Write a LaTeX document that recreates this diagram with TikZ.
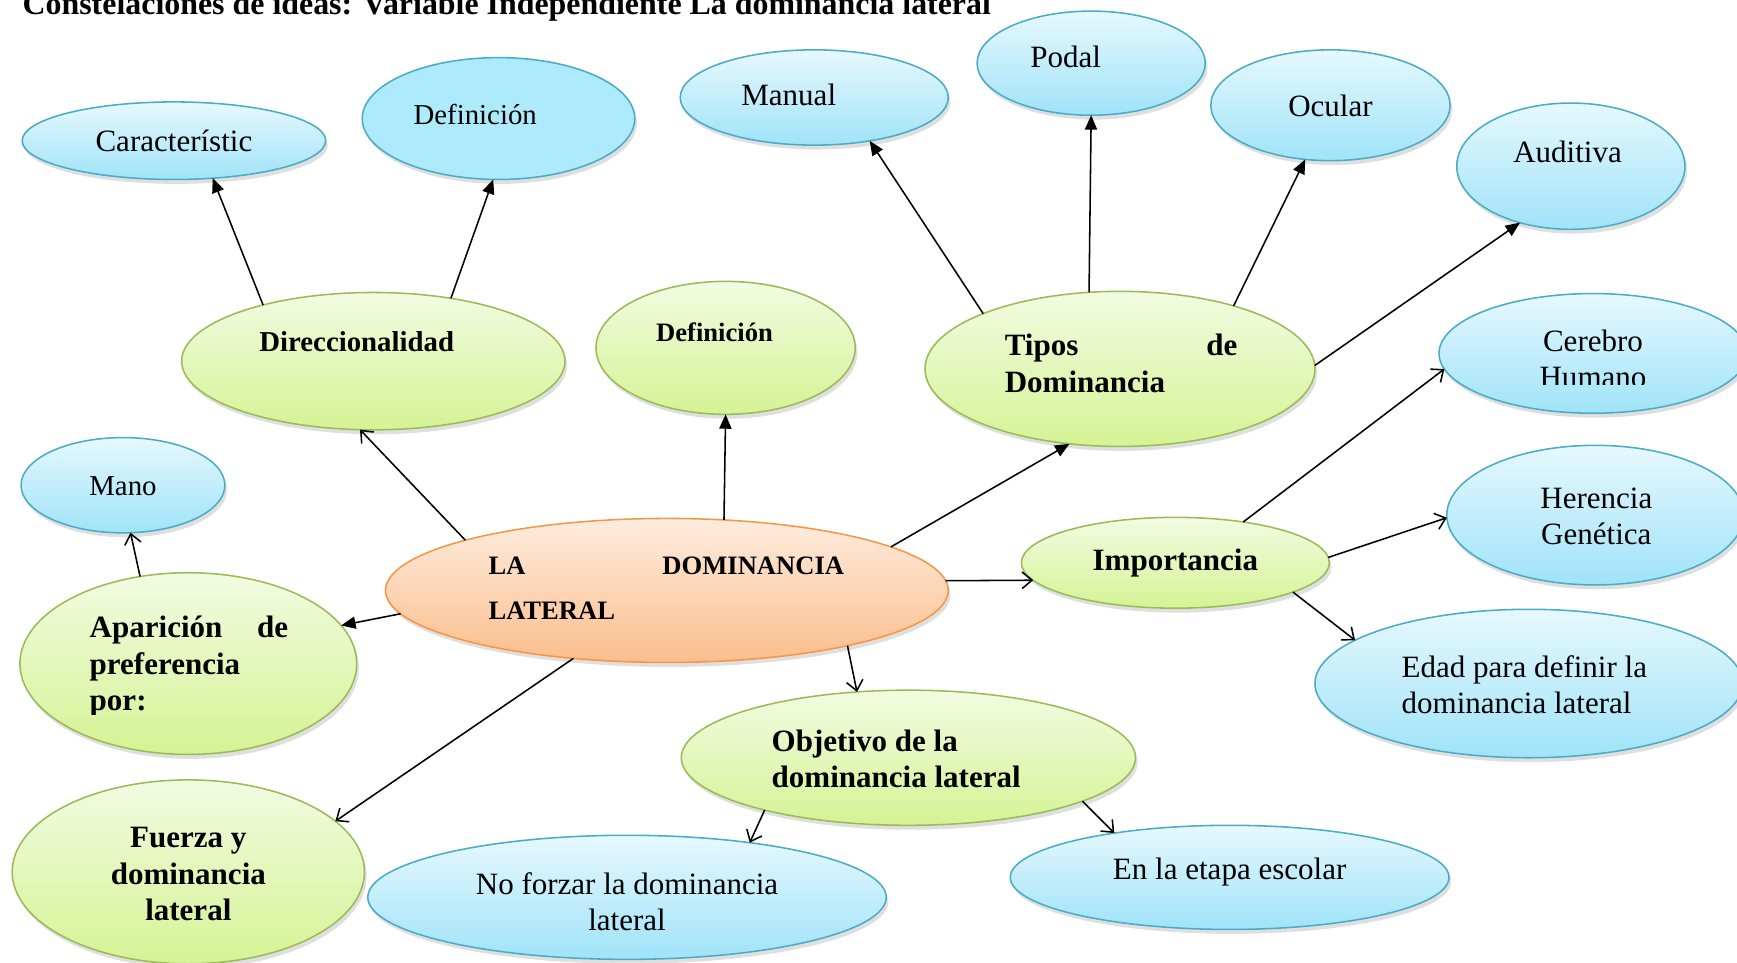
\documentclass[tikz,border=0pt]{standalone}
\usepackage{fontspec}
\setmainfont{Liberation Serif}
\usetikzlibrary{shapes.geometric, arrows.meta, shadows}

\definecolor{bubblue}{RGB}{75,172,198}
\definecolor{bubbluetop}{RGB}{230,248,254}
\definecolor{bubbluebot}{RGB}{160,227,248}
\definecolor{bubcyan}{RGB}{172,234,252}
\definecolor{bubgreen}{RGB}{155,187,89}
\definecolor{bubgreentop}{RGB}{242,251,226}
\definecolor{bubgreenbot}{RGB}{213,243,148}
\definecolor{bubor}{RGB}{247,150,70}
\definecolor{bubortop}{RGB}{253,236,222}
\definecolor{buborbot}{RGB}{251,190,140}

\begin{document}
\begin{tikzpicture}[x=0.5pt, y=-0.5pt,
  bub/.style={ellipse, inner sep=0pt, outer sep=0pt, line width=0.7pt,
    drop shadow={shadow xshift=1pt, shadow yshift=-2pt, opacity=0.25}},
  bluebub/.style={bub, draw=bubblue, top color=bubbluetop, bottom color=bubbluebot},
  greenbub/.style={bub, draw=bubgreen, top color=bubgreentop, bottom color=bubgreenbot},
  mainbub/.style={bub, draw=bubor, top color=bubortop, bottom color=buborbot},
  btxt/.style={font=\fontsize{14}{16.5}\selectfont, align=center, inner sep=0pt},
  gtxt/.style={btxt, font=\fontsize{14}{16.5}\selectfont\bfseries},
  arr/.style={line width=0.7pt, -{Triangle[length=6.5pt, width=5.5pt]}},
  oarr/.style={line width=0.7pt, -{Straight Barb[length=4.5pt, width=7.5pt]}}
]
  \useasboundingbox (0,0) rectangle (1568,869);

  % title
  \node[anchor=base west, inner sep=0pt, font=\fontsize{14.4}{16}\selectfont\bfseries] (titulo) at (20,13.5)
    {Constelaciones de ideas: Variable Independiente La dominancia lateral};

  % bubbles
  \node[bluebub, minimum width=137, minimum height=35] (caract) at (157,127) {};
  \node[bub, draw=bubblue, fill=bubcyan, minimum width=123, minimum height=55] (defa) at (450,107) {};
  \node[bluebub, minimum width=121, minimum height=43] (manual) at (735,88) {};
  \node[bluebub, minimum width=103, minimum height=47] (podal) at (985,57) {};
  \node[bluebub, minimum width=108, minimum height=50] (ocular) at (1201,95) {};
  \node[bluebub, minimum width=103, minimum height=57] (auditiva) at (1418,150) {};
  \node[greenbub, minimum width=173, minimum height=62] (direc) at (337,326) {};
  \node[greenbub, minimum width=117, minimum height=60] (defb) at (655,314) {};
  \node[greenbub, minimum width=176, minimum height=70] (tipos) at (1011,333) {};
  \node[bluebub, minimum width=139, minimum height=54] (cerebro) at (1438,319) {};
  \node[bluebub, minimum width=92, minimum height=43] (mano) at (111,438) {};
  \node[mainbub, minimum width=254, minimum height=65] (lado) at (602,533) {};
  \node[greenbub, minimum width=139, minimum height=41] (import) at (1061,508) {};
  \node[bluebub, minimum width=134, minimum height=63] (herencia) at (1440,465) {};
  \node[greenbub, minimum width=152, minimum height=82] (aparic) at (170,599) {};
  \node[bluebub, minimum width=193, minimum height=67] (edad) at (1380,617) {};
  \node[greenbub, minimum width=205, minimum height=61] (objet) at (820,684) {};
  \node[greenbub, minimum width=159, minimum height=83] (fuerza) at (170,787) {};
  \node[bluebub, minimum width=234, minimum height=56] (noforz) at (566,810) {};
  \node[bluebub, minimum width=198, minimum height=47] (etapa) at (1110,792) {};

  % texts
  \node[btxt] (caractt) at (157,127) {Característic};
  \node[btxt, font=\fontsize{13}{15}\selectfont] (defat) at (429,103) {Definición};
  \node[btxt] (manualt) at (712,86) {Manual};
  \node[btxt] (podalt) at (962,51) {Podal};
  \node[btxt] (oculart) at (1201,96) {Ocular};
  \node[btxt] (auditivat) at (1415,137) {Auditiva};
  \node[gtxt, font=\fontsize{13}{15}\selectfont\bfseries] (direct) at (322,308) {Direccionalidad};
  \node[gtxt, font=\fontsize{12}{14}\selectfont\bfseries] (defbt) at (645,300) {Definición};
  \node[gtxt, text width=105pt, align=left] (tipost) at (1012,328)
    {\makebox[105pt]{Tipos\hfill de}\\Dominancia};
  \begin{scope}
    \clip (1300,280) rectangle (1568,347);
    \node[btxt] (cerebrot) at (1438,324) {Cerebro\\Humano};
  \end{scope}
  \node[btxt, font=\fontsize{13}{15}\selectfont] (manot) at (111,439) {Mano};
  \node[gtxt, font=\fontsize{12}{20.5}\selectfont\bfseries, text width=160.5pt, align=left] (ladot) at (601.5,531)
    {\makebox[160.5pt]{LA\hfill DOMINANCIA}\\LATERAL};
  \node[gtxt] (importt) at (1061,508) {Importancia};
  \node[btxt] (herenciat) at (1441,466) {Herencia\\Genética};
  \begin{scope}
    \clip (0,500) rectangle (330,645);
    \node[gtxt, text width=89.5pt, align=left] (aparict) at (170.5,602)
      {\makebox[89.5pt]{Aparición\hfill de}\\preferencia\\por:};
  \end{scope}
  \node[btxt, align=left] (edadt) at (1376,618) {Edad para definir la\\dominancia lateral};
  \node[gtxt, align=left] (objett) at (809,685) {Objetivo de la\\dominancia lateral};
  \node[gtxt] (fuerzat) at (170,789) {Fuerza y\\dominancia\\lateral};
  \node[btxt] (noforzt) at (566,814) {No forzar la dominancia\\lateral};
  \node[btxt] (etapat) at (1110,787) {En la etapa escolar};

  % connectors
  \draw[arr] (direc.153) -- (caract.-44);
  \draw[arr] (direc.39) -- (defa.-95);
  \draw[arr] (tipos.158) -- (manual.-38);
  \draw[arr] (tipos.112) -- (podal.south);
  \draw[arr] (tipos.29) -- (ocular.-115);
  \draw[arr] (tipos.1) -- (auditiva.-132);
  \draw[oarr] (lado.166) -- (direc.-101);
  \draw[arr] (lado.51) -- (defb.south);
  \draw[arr] (lado.11) -- (tipos.-124);
  \draw[arr] (lado.185) -- (aparic.14);
  \draw[oarr] (aparic.119) -- (mano.-81);
  \draw[oarr] (lado.-144) -- (fuerza.19);
  \draw[oarr] (lado.2) -- (import.187);
  \draw[oarr] (lado.-17) -- (objet.128);
  \draw[oarr] (import.31) -- (cerebro.186);
  \draw[oarr] (import.2) -- (herencia.181);
  \draw[oarr] (import.-14) -- (edad.166);
  \draw[oarr] (objet.-160) -- (noforz.24);
  \draw[oarr] (objet.-14) -- (etapa.159);
\end{tikzpicture}
\end{document}
